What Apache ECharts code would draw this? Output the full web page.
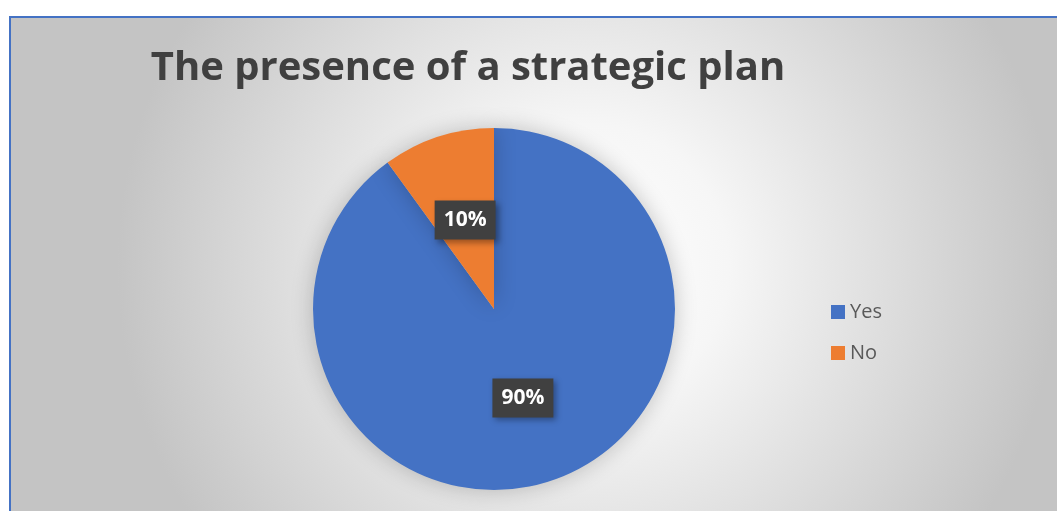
<!DOCTYPE html>
<html>
<head>
<meta charset="utf-8">
<script src="https://cdn.jsdelivr.net/npm/echarts@6/dist/echarts.min.js"></script>
<style>
  html, body { margin: 0; padding: 0; background: #fff; }
  #frame {
    position: absolute; left: 9px; top: 16px; width: 1048px; height: 495px;
    border-top: 2px solid #4472C4; border-left: 2px solid #4472C4;
  }
  #chart { width: 1048px; height: 495px; }
</style>
</head>
<body>
<div id="frame"><div id="chart"></div></div>
<script>
const categories = ["Yes", "No"];
const values = [90, 10];
const colors = ["#4472C4", "#ED7D31"];

const chart = echarts.init(document.getElementById("chart"));
chart.setOption({
  backgroundColor: {
    type: "radial", x: 0.55, y: 0.5, r: 0.95,
    colorStops: [
      { offset: 0, color: "#ffffff" },
      { offset: 0.3, color: "#f6f6f6" },
      { offset: 1, color: "#c4c4c4" }
    ]
  },
  title: {
    text: "The presence of a strategic plan",
    left: 452, top: 26, textAlign: "center",
    textStyle: {
      fontFamily: "Open Sans", fontWeight: "bold", fontSize: 40, color: "#404040"
    }
  },
  legend: {
    orient: "vertical",
    left: 815, top: 279,
    itemWidth: 14, itemHeight: 14, itemGap: 21,
    icon: "rect",
    textStyle: { fontFamily: "Open Sans", fontSize: 20, color: "#595959" },
    data: categories
  },
  series: [{
    type: "pie",
    center: [483, 291],
    radius: 181,
    startAngle: 90,
    clockwise: true,
    silent: true,
    data: categories.map((c, i) => ({ name: c, value: values[i], itemStyle: { color: colors[i] } })),
    itemStyle: {
      shadowBlur: 22, shadowColor: "rgba(0,0,0,0.22)"
    },
    label: {
      position: "inside",
      formatter: "{d}%",
      fontFamily: "Open Sans", fontWeight: "bold", fontSize: 21, color: "#ffffff",
      backgroundColor: "#404040",
      padding: [10, 9, 8, 9],
      shadowBlur: 6, shadowOffsetX: 3, shadowOffsetY: 3, shadowColor: "rgba(0,0,0,0.35)"
    },
    labelLine: { show: false }
  }]
});
</script>
</body>
</html>
